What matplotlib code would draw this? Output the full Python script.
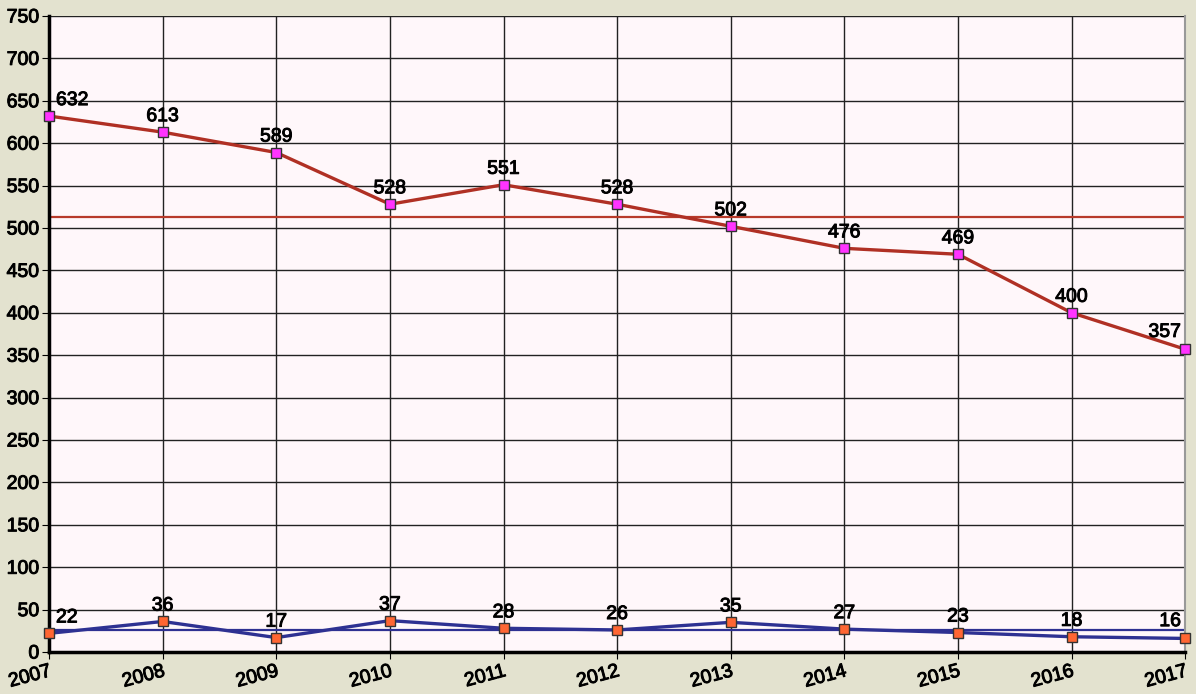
import matplotlib.pyplot as plt
import matplotlib.patheffects as pe
import numpy as np

years = [2007, 2008, 2009, 2010, 2011, 2012, 2013, 2014, 2015, 2016, 2017]
series_top = [632, 613, 589, 528, 551, 528, 502, 476, 469, 400, 357]
series_low = [22, 36, 17, 37, 28, 26, 35, 27, 23, 18, 16]

plt.rcParams["font.family"] = ["Liberation Sans", "DejaVu Sans"]

fig = plt.figure(figsize=(11.96, 6.94), dpi=100)
fig.patch.set_facecolor("#E3E2CF")
ax = fig.add_axes([0.041, 0.0605, 0.95, 0.9165])
ax.set_facecolor("#FFF7FA")

x = np.arange(len(years))
thick = [pe.withStroke(linewidth=0.7, foreground="black")]

ax.axhline(np.mean(series_top), color="#B83A2A", lw=1.6, zorder=2)
ax.axhline(np.mean(series_low), color="#2E3192", lw=1.6, zorder=2)

ax.plot(x, series_top, color="#B03024", lw=2.4, marker="s", ms=7,
        mfc="#FF33FF", mec="#333333", mew=1, zorder=4, clip_on=False)
ax.plot(x, series_low, color="#2E3192", lw=2.4, marker="s", ms=7,
        mfc="#FF6633", mec="#333333", mew=1, zorder=4, clip_on=False)

for series in (series_top, series_low):
    last = len(series) - 1
    for i, v in enumerate(series):
        if i == 0:
            off, ha = (5, 5), "left"
        elif i == last:
            off, ha = (-3, 6), "right"
        else:
            off, ha = (0, 5), "center"
        ax.annotate(str(v), (i, v), xytext=off, textcoords="offset points",
                    ha=ha, va="bottom", fontsize=14, zorder=5, path_effects=thick)

ax.set_xlim(0, len(years) - 1)
ax.set_ylim(0, 750)
ax.set_yticks(range(0, 751, 50))
ax.set_xticks(x)
ax.set_xticklabels(years, rotation=15, ha="right", rotation_mode="anchor")
ax.tick_params(axis="both", labelsize=14, length=5, color="black")
ax.tick_params(axis="y", pad=2)
ax.tick_params(axis="x", pad=3)
for lbl in ax.get_xticklabels() + ax.get_yticklabels():
    lbl.set_path_effects(thick)

ax.grid(True, color="#222222", lw=1)
ax.set_axisbelow(True)
for side in ("left", "bottom"):
    ax.spines[side].set_linewidth(2.5)
    ax.spines[side].set_color("black")
ax.spines["top"].set_visible(False)
ax.spines["right"].set_color("#999999")
ax.spines["right"].set_linewidth(1.5)

plt.savefig("out.png", facecolor=fig.get_facecolor())
plt.close()
